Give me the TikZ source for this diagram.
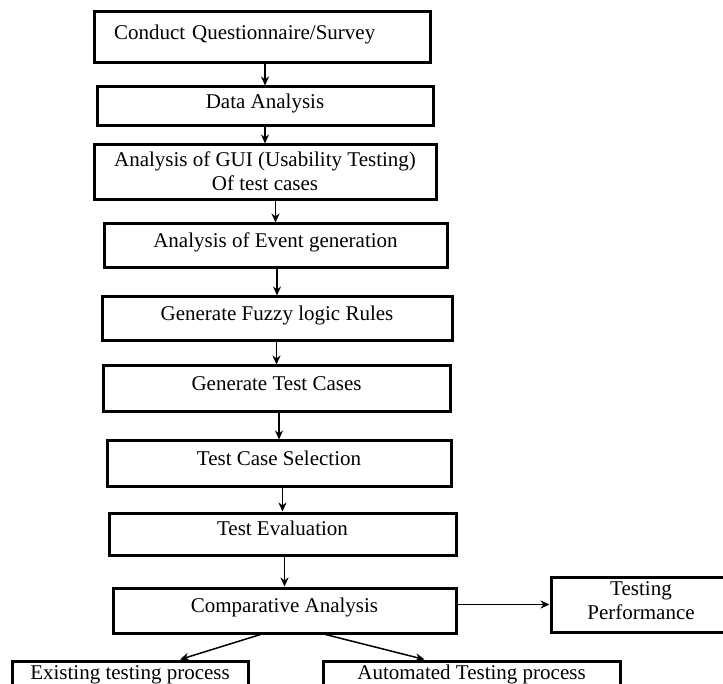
\documentclass[tikz,border=0pt]{standalone}
\usepackage{fontspec}
\setmainfont{Liberation Serif}
\usetikzlibrary{arrows.meta}

\begin{document}
\begin{tikzpicture}[x=1pt,y=-1pt,
		stage/.style={draw,line width=3pt,inner sep=0pt,font=\fontsize{21}{24}\selectfont,text depth=11pt},
		flow/.style={line width=1.5pt,-{Stealth[length=9pt,width=8pt]}}]
	\useasboundingbox (0,0) rectangle (723,684);
	
	% main column
	\node [stage,minimum width=336pt,minimum height=51pt,text width=296pt,align=left] (s1) at (262,37.5) {Conduct Questionnaire/Survey};
	\node [stage,minimum width=336pt,minimum height=39pt] (s2) at (265,106.5) {Data Analysis};
	\node [stage,minimum width=342pt,minimum height=55pt,align=center,text depth=2pt] (s3) at (265,172.5) {Analysis of GUI (Usability Testing)\\Of test cases};
	\node [stage,minimum width=343pt,minimum height=44pt] (s4) at (275.5,246) {Analysis of Event generation};
	\node [stage,minimum width=350pt,minimum height=44pt] (s5) at (277,319) {Generate Fuzzy logic Rules};
	\node [stage,minimum width=347pt,minimum height=46pt] (s6) at (276.5,389) {Generate Test Cases};
	\node [stage,minimum width=344pt,minimum height=45pt] (s7) at (279,463.5) {Test Case Selection};
	\node [stage,minimum width=347pt,minimum height=42pt] (s8) at (282.5,534) {Test Evaluation};
	\node [stage,minimum width=343pt,minimum height=45pt] (s9) at (284.5,610.5) {Comparative Analysis};
	
	% outputs
	\node [stage,minimum width=180pt,minimum height=55pt,align=center,text depth=7pt] (perf) at (641,604.5) {Testing\\Performance};
	\node [stage,minimum width=236pt,minimum height=34pt] (exist) at (130,678) {Existing testing process};
	\node [stage,minimum width=297pt,minimum height=34pt] (auto) at (471.5,678) {Automated Testing process};
	
	\foreach \i [count=\j from 2] in {1,...,8}
	\draw [flow] (s\i.south -| s\j.north) -- (s\j.north);
	
	\draw [flow] (perf.west -| s9.east) -- (perf.west);
	\draw [flow] ([xshift=-24pt]s9.south) -- ([xshift=50pt]exist.north);
	\draw [flow] ([xshift=41pt]s9.south) -- ([xshift=-47pt]auto.north);
	
\end{tikzpicture}
\end{document}
